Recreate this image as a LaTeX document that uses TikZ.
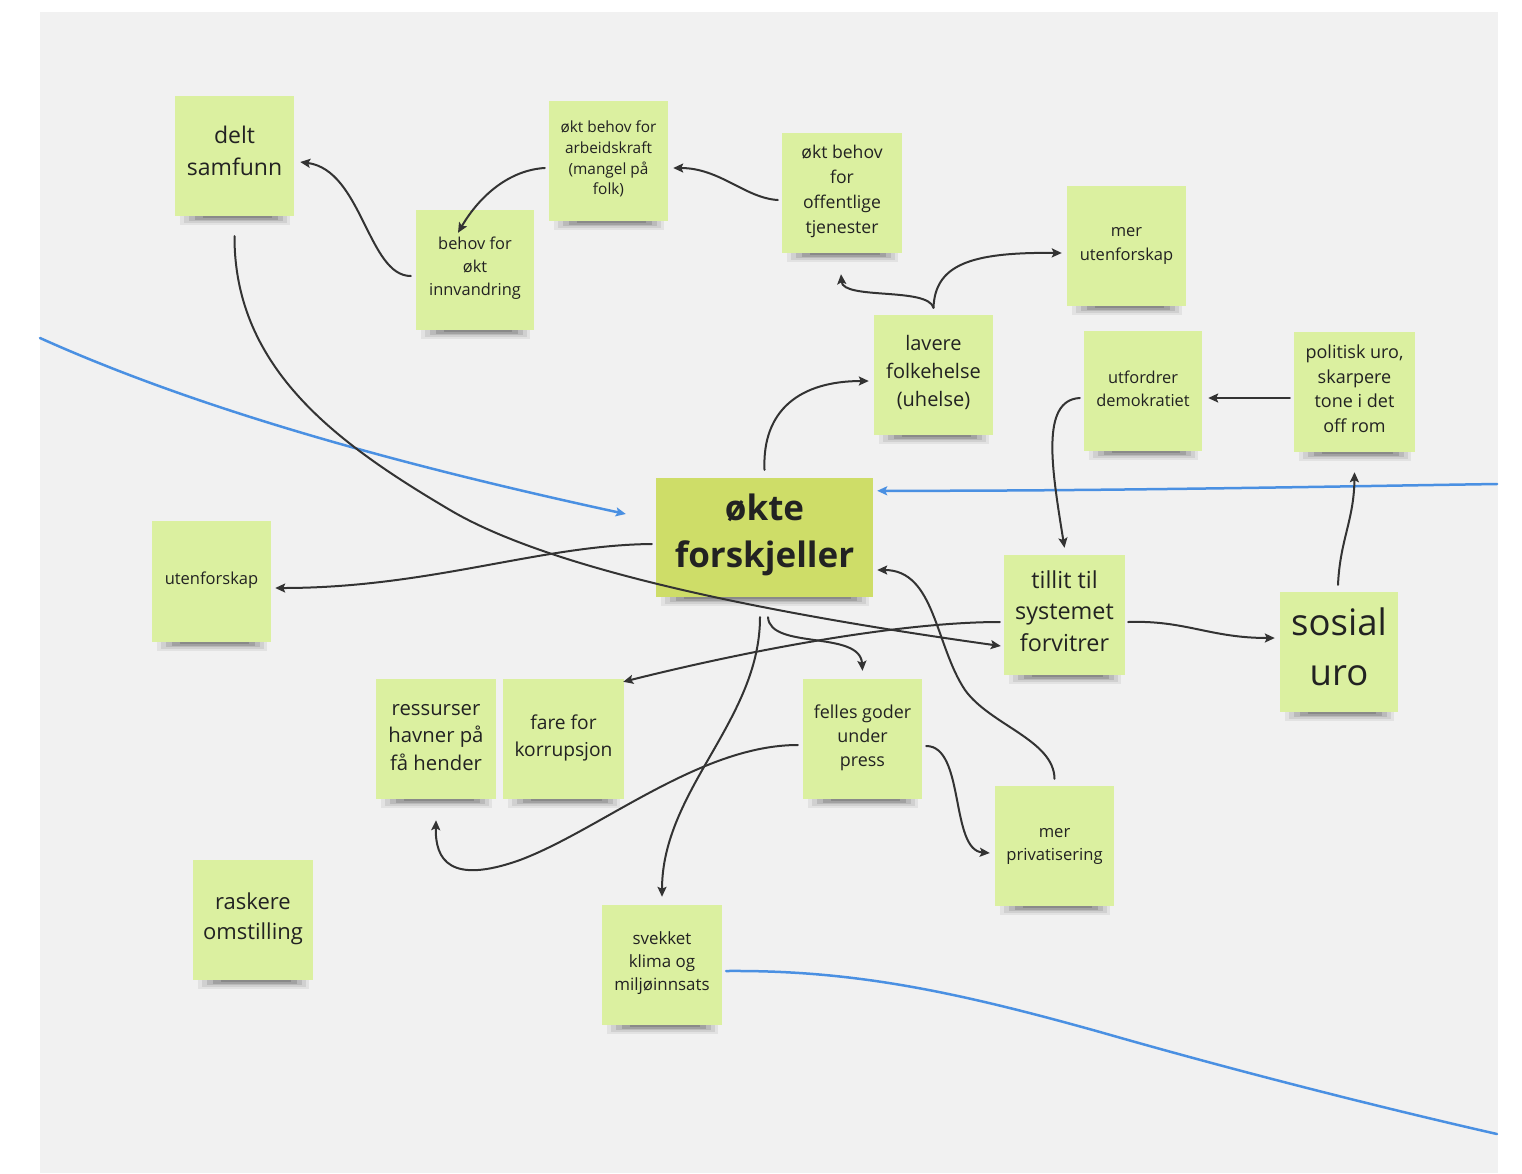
\documentclass[tikz,border=0pt]{standalone}
\usepackage{fontspec}
\setmainfont{Open Sans}
\usetikzlibrary{arrows.meta,calc}
\definecolor{bgc}{RGB}{241,241,241}
\definecolor{stickyc}{RGB}{219,240,160}
\definecolor{keyc}{RGB}{206,221,104}
\definecolor{inkc}{RGB}{34,34,34}
\definecolor{linec}{RGB}{51,51,51}
\definecolor{bluec}{RGB}{74,144,226}
\newcommand\stfs[2]{\fontsize{#1}{#2}\selectfont}
\newcommand\stickyshadow[1]{%
  \fill[black,opacity=0.06] ($(#1.south west)+(5,0)$) rectangle ($(#1.south east)+(-4,9)$);
  \fill[black,opacity=0.08] ($(#1.south west)+(9,0)$) rectangle ($(#1.south east)+(-7,7)$);
  \fill[black,opacity=0.10] ($(#1.south west)+(14,0)$) rectangle ($(#1.south east)+(-11,5)$);
  \fill[black,opacity=0.13] ($(#1.south west)+(20,0)$) rectangle ($(#1.south east)+(-16,3.5)$);
  \fill[black,opacity=0.15] ($(#1.south west)+(28,0)$) rectangle ($(#1.south east)+(-22,2)$);}
\begin{document}
\begin{tikzpicture}[x=1pt,y=-1pt,
  sticky/.style={fill=stickyc, inner sep=0pt, minimum width=119pt, minimum height=120pt},
  stxt/.style={text=inkc, inner sep=0pt, align=center},
  conn/.style={draw=linec, line width=2pt, line cap=round, -{Stealth[length=10pt,width=9pt,inset=2pt]}},
  blueline/.style={draw=bluec, line width=2.5pt, line cap=round},
  bluearrow/.style={blueline, -{Stealth[length=10pt,width=9pt,inset=2pt]}}]
\useasboundingbox (0,0) rectangle (1522,1173);
\fill[white] (0,0) rectangle (1522,1173);
\fill[bgc] (40,12) rectangle (1498,1173);

% stickies
\node[sticky] (delt) at (234.5,156) {};
\node[sticky] (arb) at (608.5,161) {};
\node[sticky, minimum width=118pt] (inn) at (475,270) {};
\node[sticky, minimum width=120pt] (off) at (842,193) {};
\node[sticky] (meru) at (1126.5,246) {};
\node[sticky] (lav) at (933.5,375) {};
\node[sticky, minimum width=118pt] (utf) at (1143,391) {};
\node[sticky, minimum width=121pt] (pol) at (1354.5,392) {};
\node[sticky, fill=keyc, minimum width=217pt, minimum height=119pt] (okte) at (764.5,537.5) {};
\node[sticky, minimum height=121pt] (uten) at (211.5,581.5) {};
\node[sticky, minimum width=121pt] (till) at (1064.5,615) {};
\node[sticky, minimum width=118pt] (sos) at (1339,652) {};
\node[sticky, minimum width=120pt] (res) at (436,739) {};
\node[sticky, minimum width=121pt] (fare) at (563.5,739) {};
\node[sticky] (fel) at (862.5,739) {};
\node[sticky] (priv) at (1054.5,846) {};
\node[sticky, minimum width=120pt] (rask) at (253,920) {};
\node[sticky, minimum width=120pt] (svek) at (662,965) {};

% texts
\node[stxt, font=\stfs{23}{32}] (deltT) at ($(delt)+(0,-5)$) {delt\\samfunn};
\node[stxt, font=\stfs{15.4}{20.8}] (arbT) at ($(arb)+(0,-2)$) {økt behov for\\arbeidskraft\\(mangel på\\folk)};
\node[stxt, font=\stfs{16.4}{23.3}] (innT) at ($(inn)+(0,-2)$) {behov for\\økt\\innvandring};
\node[stxt, font=\stfs{17.6}{25}] (offT) at ($(off)+(0,-2)$) {økt behov\\for\\offentlige\\tjenester};
\node[stxt, font=\stfs{16.5}{23.5}] (meruT) at (meru) {mer\\utenforskap};
\node[stxt, font=\stfs{20}{28}] (lavT) at ($(lav)+(0,-3)$) {lavere\\folkehelse\\(uhelse)};
\node[stxt, font=\stfs{16.4}{22.7}] (utfT) at ($(utf)+(0,-2.5)$) {utfordrer\\demokratiet};
\node[stxt, font=\stfs{18}{24.5}] (polT) at ($(pol)+(0,-3.5)$) {politisk uro,\\skarpere\\tone i det\\off rom};
\node[stxt, font=\bfseries\stfs{35}{47.5}] (okteT) at ($(okte)+(0,-2.5)$) {økte\\forskjeller};
\node[stxt, font=\stfs{16.5}{23}] (utenT) at ($(uten)+(0,-1)$) {utenforskap};
\node[stxt, font=\stfs{23.4}{31.5}] (tillT) at ($(till)+(0,-4)$) {tillit til\\systemet\\forvitrer};
\node[stxt, font=\stfs{36.5}{50}] (sosT) at ($(sos)+(0,-5)$) {sosial\\uro};
\node[stxt, font=\stfs{20.3}{27.5}] (resT) at ($(res)+(0,-1.5)$) {ressurser\\havner på\\få hender};
\node[stxt, font=\stfs{19.2}{27}] (fareT) at ($(fare)+(0,-1.5)$) {fare for\\korrupsjon};
\node[stxt, font=\stfs{17.9}{24}] (felT) at ($(fel)+(0,-1)$) {felles goder\\under\\press};
\node[stxt, font=\stfs{16.6}{23}] (privT) at (priv) {mer\\privatisering};
\node[stxt, font=\stfs{22}{30}] (raskT) at ($(rask)+(0,-1)$) {raskere\\omstilling};
\node[stxt, font=\stfs{16.9}{23}] (svekT) at ($(svek)+(0,-2)$) {svekket\\klima og\\miljøinnsats};

\foreach \n in {delt,arb,inn,off,meru,lav,utf,pol,okte,uten,till,sos,res,fare,fel,priv,rask,svek}{\stickyshadow{\n}}

% blue lines
\coordinate (bR) at (1497,484);
\coordinate (bL) at (40,338);
\coordinate (bB) at (1497,1134);
\draw[bluearrow] (bR) .. controls (1300,487) and (1100,491) .. ($(okte.north east)+(4,13)$);
\draw[bluearrow] (bL) .. controls (200,410) and (400,465) .. ($(okte.west)+(-30,-23.5)$);
\draw[blueline] ($(svek.east)+(4,6)$) .. controls (850,970) and (950,990) .. (1100,1032) .. controls (1250,1075) and (1400,1112) .. (bB);

% connectors
\draw[conn] ($(inn.west)+(-5,6)$) .. controls (368,276) and (362,170) .. ($(delt.east)+(6,6)$);
\draw[conn] ($(arb.west)+(-4,7)$) .. controls (510,170) and (480,195) .. ($(inn.north)+(-17,23)$);
\draw[conn] ($(off.west)+(-4,7)$) .. controls (745,198) and (720,168) .. ($(arb.east)+(5,7)$);
\draw[conn] ($(lav.north)+(0,-7)$) .. controls (928,287) and (843,300) .. ($(off.south)+(-1,21)$);
\draw[conn] ($(lav.north)+(0,-7)$) .. controls (935,265) and (970,252) .. ($(meru.west)+(-5,7)$);
\draw[conn] ($(okte.north)+(0,-8)$) .. controls (762,410) and (800,381) .. ($(lav.west)+(-5,6)$);
\draw[conn] ($(pol.west)+(-4,6)$) -- ($(utf.east)+(6,7)$);
\draw[conn] ($(utf.west)+(-4,7)$) .. controls (1040,400) and (1052,470) .. ($(till.north)+(0,-7)$);
\draw[conn] ($(okte.west)+(-4,6.5)$) .. controls (540,545) and (430,588) .. ($(uten.east)+(4,6.5)$);
\draw[conn] ($(delt.south)+(0,20)$) .. controls (234,370) and (340,445) .. (450,510) .. controls (560,575) and (800,618) .. ($(till.west)+(-3,31)$);
\draw[conn] ($(till.west)+(-4,7)$) .. controls (900,622) and (750,650) .. ($(fare.north east)+(-1,3)$);
\draw[conn] ($(till.east)+(3,7)$) .. controls (1185,620) and (1210,638) .. ($(sos.west)+(-5,-14)$);
\draw[conn] ($(sos.north)+(-1,-7)$) .. controls (1340,540) and (1354,520) .. ($(pol.south)+(0,20)$);
\draw[conn] ($(priv.north)+(0,-7)$) .. controls (1054,740) and (990,725) .. (965,690) .. controls (935,645) and (935,570) .. ($(okte.east)+(4,32.5)$);
\draw[conn] ($(okte.south)+(3.5,20)$) .. controls (770,650) and (860,630) .. ($(fel.north)+(0,-8)$);
\draw[conn] ($(okte.south)+(-4.5,20)$) .. controls (760,720) and (662,790) .. ($(svek.north)+(0,-8)$);
\draw[conn] ($(fel.west)+(-5,6)$) .. controls (700,745) and (600,830) .. (520,860) .. controls (450,885) and (435,860) .. ($(res.south)+(0,21)$);
\draw[conn] ($(fel.east)+(4,7)$) .. controls (965,746) and (950,850) .. ($(priv.west)+(-5,7)$);
\end{tikzpicture}
\end{document}
